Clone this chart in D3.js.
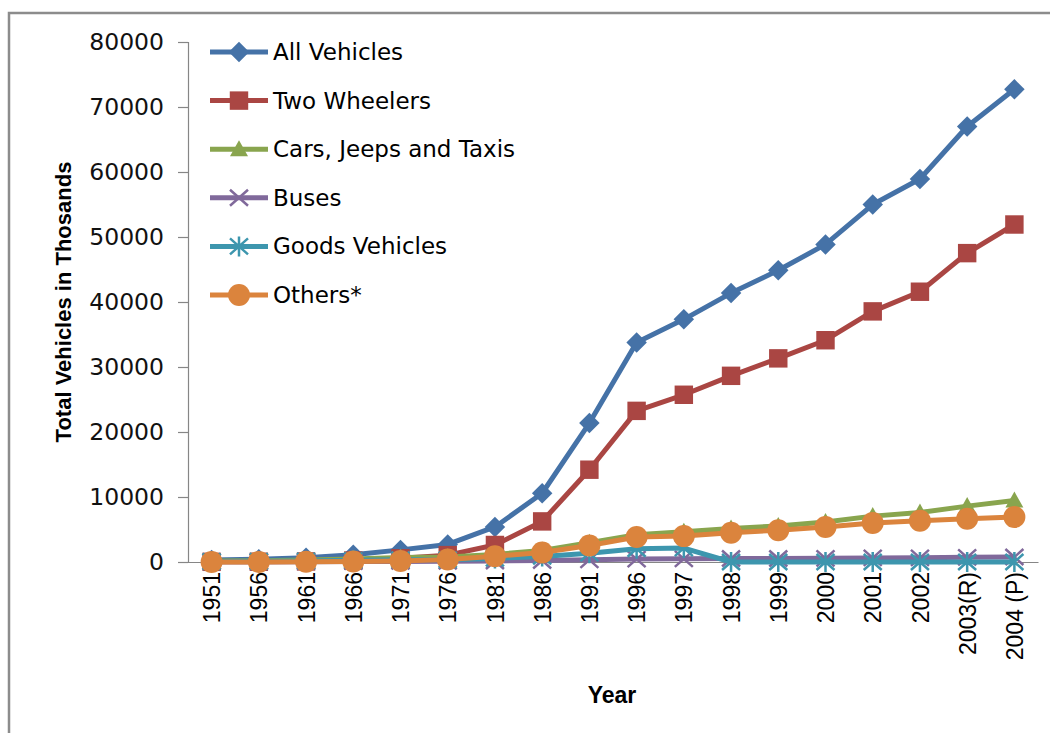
<!DOCTYPE html>
<html lang="en">
<head>
<meta charset="utf-8" />
<title>Total Vehicles in India</title>
<script src="https://cdn.jsdelivr.net/npm/d3@7"></script>
<style>
  body { margin: 0; background: #fff; }
</style>
</head>
<body>
<div id="chart"></div>
<script>
// categories and series (thousands)
var years = ["1951","1956","1961","1966","1971","1976","1981","1986","1991","1996","1997","1998","1999","2000","2001","2002","2003(R)","2004 (P)"];
var allVehicles   = [306, 426, 665, 1099, 1865, 2700, 5391, 10577, 21374, 33786, 37332, 41368, 44875, 48857, 54991, 58924, 67007, 72718];
var twoWheelers   = [27, 41, 88, 226, 576, 1057, 2618, 6245, 14200, 23252, 25729, 28642, 31328, 34118, 38556, 41581, 47519, 51922];
var carsJeepsTaxis= [159, 203, 310, 456, 682, 779, 1160, 1780, 2954, 4204, 4672, 5138, 5556, 6143, 7058, 7613, 8599, 9451];
var buses         = [34, 47, 57, 73, 94, 115, 162, 227, 331, 449, 484, 538, 540, 562, 634, 635, 721, 768];
var goodsVehicles = [82, 119, 168, 259, 343, 351, 554, 863, 1356, 2031, 2143, 0, 0, 0, 0, 0, 0, 0];
var others        = [4, 16, 42, 85, 170, 398, 897, 1462, 2533, 3850, 3984, 4514, 4879, 5391, 5998, 6349, 6641, 6929];
var yTicks = [0, 10000, 20000, 30000, 40000, 50000, 60000, 70000, 80000];

var series = [
  {name: "All Vehicles", values: allVehicles, color: "#4572A7", marker: "diamond"},
  {name: "Two Wheelers", values: twoWheelers, color: "#AA4643", marker: "square"},
  {name: "Cars, Jeeps and Taxis", values: carsJeepsTaxis, color: "#89A54E", marker: "triangle"},
  {name: "Buses", values: buses, color: "#80699B", marker: "x"},
  {name: "Goods Vehicles", values: goodsVehicles, color: "#3D96AE", marker: "star"},
  {name: "Others*", values: others, color: "#DB843D", marker: "circle"}
];

var W = 1050, H = 733;
var margin = {top: 42, right: 12, bottom: 171, left: 188},
    width = W - margin.left - margin.right,
    height = H - margin.top - margin.bottom;

var svg = d3.select("#chart").append("svg")
    .attr("width", W)
    .attr("height", H);

// outer frame
svg.append("rect")
  .attr("x", 9).attr("y", 13)
  .attr("width", W).attr("height", H)
  .attr("fill", "none")
  .attr("stroke", "#8c8c8c")
  .attr("stroke-width", 2.5);

var g = svg.append("g")
  .attr("transform", "translate(" + margin.left + "," + margin.top + ")");

var x = d3.scalePoint()
  .domain(years)
  .range([0, width])
  .padding(0.5);

var y = d3.scaleLinear()
  .domain([0, 80000])
  .range([height, 0]);

// Y axis
var yAxis = g.append("g")
  .call(d3.axisLeft(y).tickValues(yTicks).tickSize(10).tickPadding(14).tickFormat(d3.format("d")));
yAxis.select(".domain").attr("stroke", "#868686").attr("stroke-width", 1.2);
yAxis.selectAll(".tick line").attr("stroke", "#868686").attr("stroke-width", 1.2);
yAxis.selectAll("text")
  .style("font-family", "DejaVu Sans")
  .style("font-size", "23.5px")
  .attr("fill", "#111");

// X axis
var xAxis = g.append("g")
  .attr("transform", "translate(0," + height + ")")
  .call(d3.axisBottom(x).tickSize(0).tickPadding(0));
xAxis.select(".domain").attr("stroke", "#868686").attr("stroke-width", 1.2);
xAxis.selectAll("text")
  .style("font-family", "Liberation Sans")
  .style("font-size", "23px")
  .attr("fill", "#000")
  .attr("transform", "rotate(-90)")
  .attr("x", -10)
  .attr("y", 0)
  .attr("dy", "0.35em")
  .style("text-anchor", "end");

// axis titles
svg.append("text")
  .attr("transform", "translate(71," + (margin.top + height / 2 - 0) + ") rotate(-90)")
  .attr("text-anchor", "middle")
  .style("font-family", "Liberation Sans")
  .style("font-weight", "bold")
  .style("font-size", "22px")
  .text("Total Vehicles in Thosands");

svg.append("text")
  .attr("x", 612).attr("y", 703)
  .attr("text-anchor", "middle")
  .style("font-family", "Liberation Sans")
  .style("font-weight", "bold")
  .style("font-size", "23px")
  .text("Year");

// marker drawing
function drawMarker(sel, type, color) {
  if (type === "diamond") {
    sel.append("path").attr("d", d3.symbol().type(d3.symbolSquare).size(210)())
      .attr("transform", "rotate(45)").attr("fill", color);
  } else if (type === "square") {
    sel.append("path").attr("d", d3.symbol().type(d3.symbolSquare).size(340)()).attr("fill", color);
  } else if (type === "triangle") {
    sel.append("path").attr("d", "M0,-9L9,7L-9,7Z").attr("fill", color);
  } else if (type === "circle") {
    sel.append("circle").attr("r", 11).attr("fill", color);
  } else if (type === "x") {
    sel.append("path").attr("d", "M-9,-8L9,8M-9,8L9,-8")
      .attr("stroke", color).attr("stroke-width", 2.5).attr("fill", "none");
  } else if (type === "star") {
    sel.append("path").attr("d", "M-9,-8L9,8M-9,8L9,-8M0,-10L0,10")
      .attr("stroke", color).attr("stroke-width", 2.5).attr("fill", "none");
  }
}

var line = d3.line()
  .x(function(d, i) { return x(years[i]); })
  .y(function(d) { return y(d); });

series.forEach(function(s) {
  g.append("path")
    .datum(s.values)
    .attr("fill", "none")
    .attr("stroke", s.color)
    .attr("stroke-width", 5)
    .attr("stroke-linejoin", "round")
    .attr("d", line);

  g.append("g").selectAll("g")
    .data(s.values)
    .enter().append("g")
      .attr("transform", function(d, i) { return "translate(" + x(years[i]) + "," + y(d) + ")"; })
      .each(function() { drawMarker(d3.select(this), s.marker, s.color); });
});

// legend
var legend = svg.append("g").attr("transform", "translate(210,52)");
series.forEach(function(s, i) {
  var row = legend.append("g").attr("transform", "translate(0," + (i * 48.6) + ")");
  row.append("line")
    .attr("x1", 0).attr("x2", 58)
    .attr("stroke", s.color).attr("stroke-width", 5);
  var m = row.append("g").attr("transform", "translate(29,0)");
  drawMarker(m, s.marker, s.color);
  row.append("text")
    .attr("x", 63).attr("dy", "0.35em")
    .style("font-family", "DejaVu Sans")
    .style("font-size", "23px")
    .text(s.name);
});
</script>
</body>
</html>
